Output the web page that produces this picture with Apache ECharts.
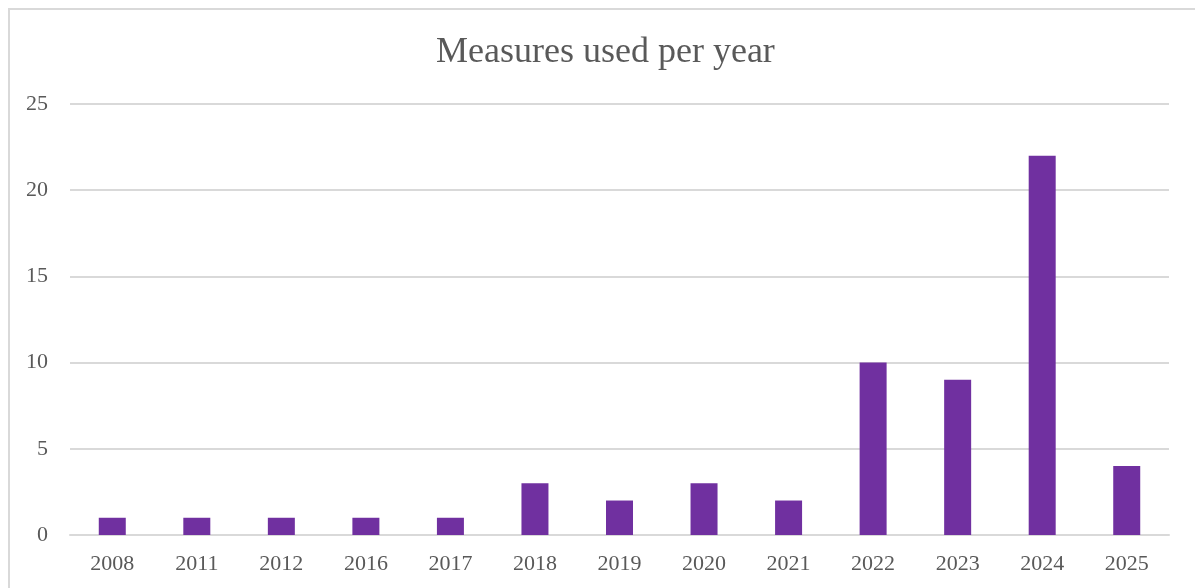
<!DOCTYPE html>
<html>
<head>
<meta charset="utf-8">
<script src="https://cdn.jsdelivr.net/npm/echarts@6/dist/echarts.min.js"></script>
<style>
  html, body { margin: 0; padding: 0; background: #fff; }
  #chart { width: 1195px; height: 588px; }
</style>
</head>
<body>
<div id="chart"></div>
<script>
// Number of measures used, by publication year
const years = ['2008', '2011', '2012', '2016', '2017', '2018', '2019', '2020', '2021', '2022', '2023', '2024', '2025'];
const measureCounts = [1, 1, 1, 1, 1, 3, 2, 3, 2, 10, 9, 22, 4];
const yTicks = { min: 0, max: 25, interval: 5 };

const serif = '"Liberation Serif", "Times New Roman", serif';
const textGray = '#595959';
const gridGray = '#d9d9d9';

const chart = echarts.init(document.getElementById('chart'));
chart.setOption({
  animation: false,
  title: {
    text: 'Measures used per year',
    left: 431,
    top: 30,
    textStyle: { fontFamily: serif, fontSize: 36, fontWeight: 'normal', color: textGray }
  },
  graphic: [{
    type: 'rect',
    shape: { x: 9, y: 9, width: 1200, height: 600 },
    style: { fill: 'none', stroke: gridGray, lineWidth: 2 },
    silent: true
  }],
  grid: { left: 70, right: 26, top: 104, bottom: 53 },
  xAxis: {
    type: 'category',
    data: years,
    axisLine: { lineStyle: { color: gridGray, width: 2 } },
    axisTick: { show: false },
    axisLabel: { fontFamily: serif, fontSize: 22, color: textGray, margin: 18 }
  },
  yAxis: {
    type: 'value',
    min: yTicks.min,
    max: yTicks.max,
    interval: yTicks.interval,
    axisLine: { show: false },
    axisTick: { show: false },
    splitLine: { lineStyle: { color: gridGray, width: 2 } },
    axisLabel: { fontFamily: serif, fontSize: 22, color: textGray, margin: 22 }
  },
  series: [{
    type: 'bar',
    data: measureCounts,
    barWidth: 27,
    itemStyle: { color: '#7030A0' }
  }]
});
</script>
</body>
</html>
